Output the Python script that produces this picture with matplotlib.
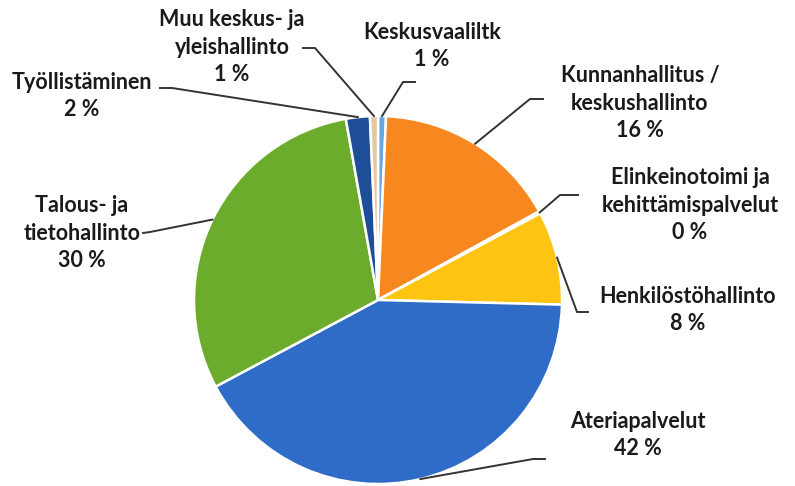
import numpy as np
import matplotlib.pyplot as plt

# data (clockwise from 12 o'clock)
labels = ["Keskusvaaliltk", "Kunnanhallitus /\nkeskushallinto", "Elinkeinotoimi ja\nkehittämispalvelut",
          "Henkilöstöhallinto", "Ateriapalvelut", "Talous- ja\ntietohallinto", "Työllistäminen",
          "Muu keskus- ja\nyleishallinto"]
shares = [0.7, 16.3, 0.2, 8.2, 41.8, 30.0, 2.1, 0.7]
colors = ["#6BA7DE", "#F7871F", "#A5A5A5", "#FDC412", "#2E6CC8", "#6CAC2C", "#1F4E99", "#E3C7A6"]

# label layout in pixels (text centre, elbow, line end)
text_px = [(432, 46), (640, 103), (690, 205), (688, 310), (638, 435), (82, 233), (82, 96), (232, 47)]
elbow_px = [(403, 82), (530, 99), (560, 195), (577, 312), (533, 459), (150, 232), (172, 88), (315, 48)]
end_px = [(415, 82), (543, 99), (578, 195), (588, 312), (545, 459), (143, 233), (160, 88), (303, 48)]

W, H = 795, 486
cx, cy, r = 378, 300, 184

fig = plt.figure(figsize=(W / 100, H / 100), dpi=100)
ax = fig.add_axes([(cx - r) / W, (H - cy - r) / H, 2 * r / W, 2 * r / H])

wedges, _ = ax.pie(shares, colors=colors, startangle=90, counterclock=False, radius=1,
                   wedgeprops=dict(edgecolor="white", linewidth=1.8))
ax.set_xlim(-1, 1)
ax.set_ylim(-1, 1)
ax.axis("off")

def to_data(p):
    return (p[0] - cx) / r, (cy - p[1]) / r

for w, lab, val, tp, ep, np_ in zip(wedges, labels, shares, text_px, elbow_px, end_px):
    mid = np.deg2rad((w.theta1 + w.theta2) / 2)
    ax0 = np.cos(mid), np.sin(mid)
    e = to_data(ep)
    n = to_data(np_)
    ax.plot([ax0[0], e[0], n[0]], [ax0[1], e[1], n[1]], color="#333333", lw=1.4,
            clip_on=False, zorder=3)
    t = to_data(tp)
    ax.text(t[0], t[1], f"{lab}\n{val:.0f} %", ha="center", va="center",
            fontsize=15.5, fontweight="bold", family="Lato", color="#1a1a1a",
            linespacing=1.38, clip_on=False)

fig.savefig("out.png", dpi=100)
